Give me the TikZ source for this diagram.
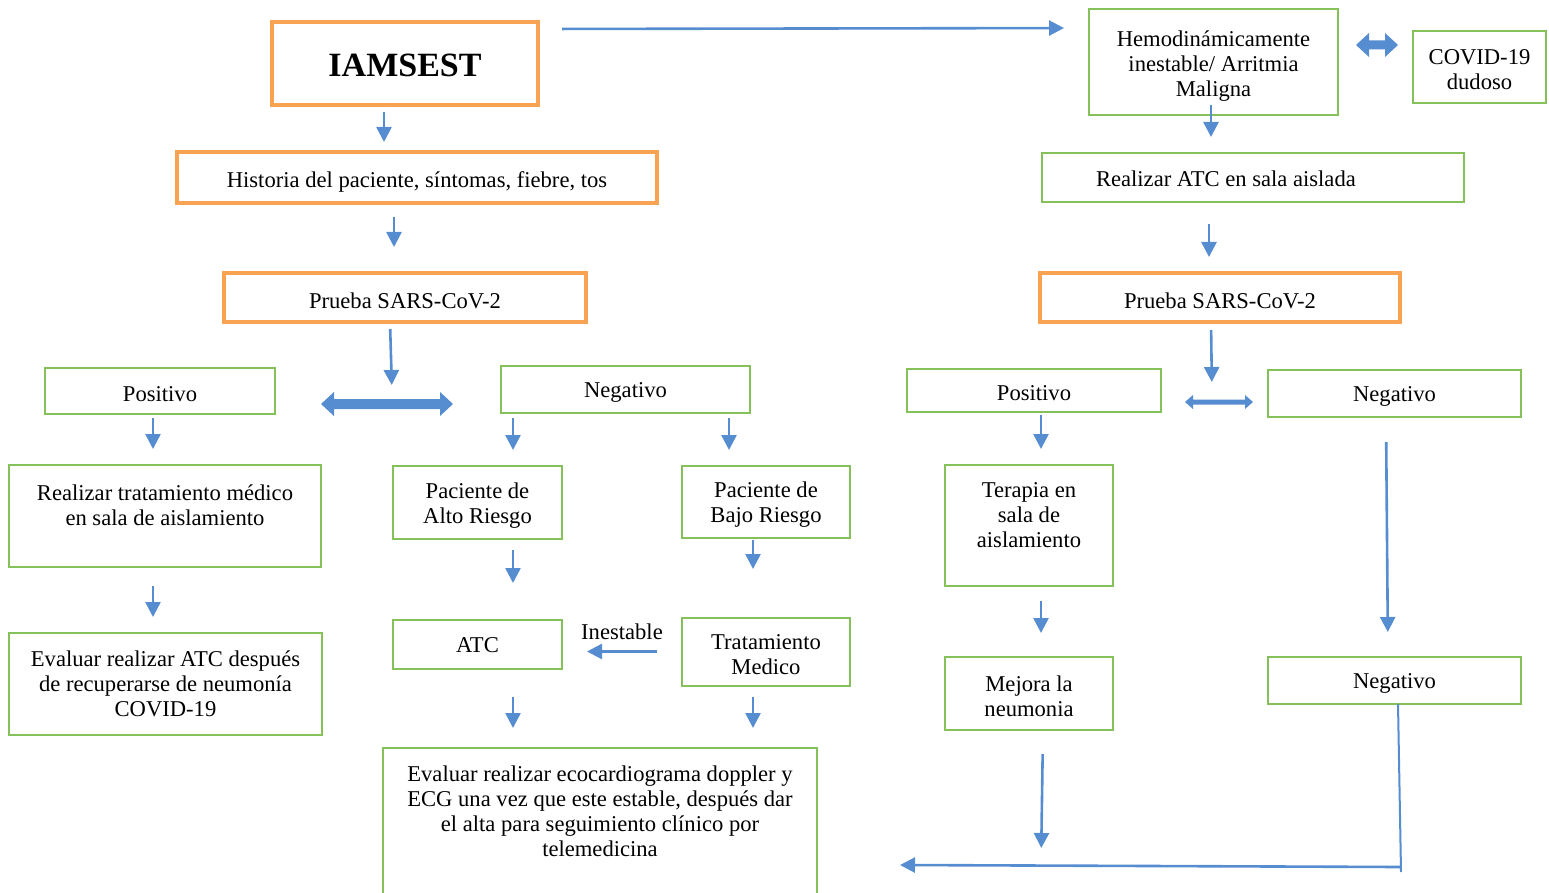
\documentclass[tikz,border=0pt]{standalone}
\usepackage{fontspec}
\setmainfont{Liberation Serif}
\usetikzlibrary{arrows.meta}
\definecolor{boxorange}{RGB}{247,163,82}
\definecolor{boxgreen}{RGB}{134,192,88}
\definecolor{arrowblue}{RGB}{86,140,208}
\tikzset{
  base/.style={font=\fontsize{22.6}{25}\selectfont, align=center, inner sep=0pt, outer sep=0pt},
  tx/.style={base, yshift=-3pt},
  obox/.style={base, draw=boxorange, line width=4pt},
  gbox/.style={base, draw=boxgreen, line width=2.9pt},
  arr/.style={draw=arrowblue, line width=2.6pt, -{Triangle[width=15pt,length=15pt]}},
  conn/.style={draw=arrowblue, line width=2pt},
}
% block double arrow: name, cx, cy, length, shaft thickness, head width, head length
\newcommand\dblarrow[7]{%
  \fill[arrowblue] ({#2-#4/2},#3) -- ({#2-#4/2+#7},{#3-#6/2}) -- ({#2-#4/2+#7},{#3-#5/2})
    -- ({#2+#4/2-#7},{#3-#5/2}) -- ({#2+#4/2-#7},{#3-#6/2}) -- ({#2+#4/2},#3)
    -- ({#2+#4/2-#7},{#3+#6/2}) -- ({#2+#4/2-#7},{#3+#5/2}) -- ({#2-#4/2+#7},{#3+#5/2})
    -- ({#2-#4/2+#7},{#3+#6/2}) -- cycle;
  \coordinate (#1) at (#2,#3);
  \coordinate (#1-top) at (#2,{#3-#6/2});
}
\begin{document}
\begin{tikzpicture}[x=1pt,y=-1pt]
\useasboundingbox (0,0) rectangle (1549,893);
\clip (0,0) rectangle (1549,893);

% ---------------- left branch ----------------
\node[obox, minimum width=266pt, minimum height=83pt] (iam) at (405,63.5) {};
\node[base, font=\fontsize{34}{40}\selectfont\bfseries, yshift=-2pt] (iamt) at (iam) {IAMSEST};
\node[obox, minimum width=480pt, minimum height=51pt] (hist) at (417,177.5) {};
\node[tx, yshift=-1pt] (histt) at (hist) {Historia del paciente, síntomas, fiebre, tos};
\node[obox, minimum width=362pt, minimum height=49pt] (pl) at (405,297.5) {};
\node[tx] (plt) at (pl) {Prueba SARS-CoV-2};
\node[gbox, minimum width=230pt, minimum height=46pt] (posl) at (160,391) {};
\node[tx] (poslt) at (posl) {Positivo};
\node[gbox, minimum width=249pt, minimum height=47pt] (negl) at (625.5,389.5) {};
\node[tx] (neglt) at (negl) {Negativo};

\node[gbox, minimum width=312pt, minimum height=102pt] (trat) at (165,516) {};
\node[base] (tratt) at (165,505.5) {Realizar tratamiento médico\\en sala de aislamiento};
\node[gbox, minimum width=313pt, minimum height=102pt] (evatc) at (165.5,684) {};
\node[base] (evatct) at (evatc) {Evaluar realizar ATC después\\de recuperarse de neumonía\\COVID-19};

\node[gbox, minimum width=169pt, minimum height=73pt] (alto) at (477.5,502.5) {};
\node[tx] (altot) at (alto) {Paciente de\\Alto Riesgo};
\node[gbox, minimum width=168pt, minimum height=72pt] (bajo) at (766,502) {};
\node[tx] (bajot) at (bajo) {Paciente de\\Bajo Riesgo};
\node[gbox, minimum width=169pt, minimum height=49pt] (atc) at (477.5,644.5) {};
\node[tx, yshift=2pt] (atct) at (atc) {ATC};
\node[gbox, minimum width=168pt, minimum height=68pt] (tmed) at (766,652) {};
\node[tx] (tmedt) at (tmed) {Tratamiento\\Medico};
\node[gbox, minimum width=434pt, minimum height=152pt] (eco) at (600,824) {};
\node[base] (ecot) at (600,811)
  {Evaluar realizar ecocardiograma doppler y\\ECG una vez que este estable, después dar\\el alta para seguimiento clínico por\\telemedicina};

% ---------------- right branch ----------------
\node[gbox, minimum width=249pt, minimum height=106pt] (hemo) at (1213.5,62) {};
\node[tx, yshift=-1pt] (hemot) at (hemo) {Hemodinámicamente\\inestable/ Arritmia\\Maligna};
\node[gbox, minimum width=133pt, minimum height=72pt] (covid) at (1479.5,67) {};
\node[tx] (covidt) at (covid) {COVID-19\\dudoso};
\node[gbox, minimum width=422pt, minimum height=49pt] (ratc) at (1253,177.5) {};
\node[base, anchor=west] (ratct) at (1096,178.5) {Realizar ATC en sala aislada};
\node[obox, minimum width=360pt, minimum height=49pt] (pr) at (1220,297.5) {};
\node[tx] (prt) at (pr) {Prueba SARS-CoV-2};
\node[gbox, minimum width=254pt, minimum height=43pt] (posr) at (1034,390.5) {};
\node[tx] (posrt) at (posr) {Positivo};
\node[gbox, minimum width=253pt, minimum height=47pt] (negr) at (1394.5,393.5) {};
\node[tx] (negrt) at (negr) {Negativo};
\node[gbox, minimum width=168pt, minimum height=121pt] (ter) at (1029,525.5) {};
\node[base] (tert) at (1029,515.5) {Terapia en\\sala de\\aislamiento};
\node[gbox, minimum width=168pt, minimum height=73pt] (mej) at (1029,693.5) {};
\node[tx] (mejt) at (mej) {Mejora la\\neumonia};
\node[gbox, minimum width=253pt, minimum height=47pt] (negb) at (1394.5,680.5) {};
\node[tx] (negbt) at (negb) {Negativo};

% ---------------- block double arrows ----------------
\dblarrow{dblL}{387}{404}{132}{10}{24}{13}
\dblarrow{dblR}{1219}{402}{68}{5}{14}{8}
\dblarrow{dblT}{1377}{45}{42}{9}{24}{13}

% ---------------- connectors ----------------
\draw[arr, shorten <=24pt, shorten >=25pt] (iam.east |- 0,29) -- (hemo.west |- 0,28);
\draw[arr, shorten <=7pt, shorten >=10pt] (iam.south -| 384,0) -- (hist.north -| 384,0);
\draw[arr, shorten <=14pt, shorten >=26pt] (hist.south -| 394,0) -- (pl.north -| 394,0);
\draw[arr, shorten <=7pt, shorten >=7pt] (pl.south -| 390,0) -- (dblL-top -| 392,0);
\draw[arr, shorten <=4pt, shorten >=16pt] (posl.south -| 153,0) -- (trat.north -| 153,0);
\draw[arr, shorten <=19pt, shorten >=16pt] (trat.south -| 153,0) -- (evatc.north -| 153,0);
\draw[arr, shorten <=5pt, shorten >=16pt] (negl.south -| 513,0) -- (alto.north -| 513,0);
\draw[arr, shorten <=5pt, shorten >=16pt] (negl.south -| 729,0) -- (bajo.north -| 729,0);
\draw[arr, shorten <=11pt, shorten >=37pt] (alto.south -| 513,0) -- (atc.north -| 513,0);
\draw[arr, shorten <=2pt, shorten >=49pt] (bajo.south -| 753,0) -- (tmed.north -| 753,0);
\draw[arr, shorten <=25pt, shorten >=25pt] (tmed.west |- 0,651.5) -- (atc.east |- 0,651.5)
  node[base, pos=0.5, yshift=20pt] (inest) {Inestable};
\draw[arr, shorten <=28pt, shorten >=20pt] (atc.south -| 513,0) -- (eco.north -| 513,0);
\draw[arr, shorten <=11pt, shorten >=20pt] (tmed.south -| 753,0) -- (eco.north -| 753,0);

\draw[arr, shorten <=-10pt, shorten >=16pt] (hemo.south -| 1211,0) -- (ratc.north -| 1211,0);
\draw[arr, shorten <=22pt, shorten >=16pt] (ratc.south -| 1209,0) -- (pr.north -| 1209,0);
\draw[arr, shorten <=8pt, shorten >=13pt] (pr.south -| 1211,0) -- (dblR-top -| 1212,0);
\draw[arr, shorten <=3pt, shorten >=16pt] (posr.south -| 1041,0) -- (ter.north -| 1041,0);
\draw[arr, shorten <=15pt, shorten >=24pt] (ter.south -| 1041,0) -- (mej.north -| 1041,0);
\draw[arr, shorten <=25pt, shorten >=25pt] (negr.south -| 1386,0) -- (negb.north -| 1388,0);

% return path to the left
\coordinate (corner) at (1400,867);
\coordinate (merge) at (900,865);
\draw[conn] (negb.south -| 1398,0) -- (1401,872);
\draw[arr] (corner) -- (merge);
\draw[arr, shorten <=24pt, shorten >=18pt] (mej.south -| 1043,0) -- (1041,866);
\end{tikzpicture}
\end{document}
